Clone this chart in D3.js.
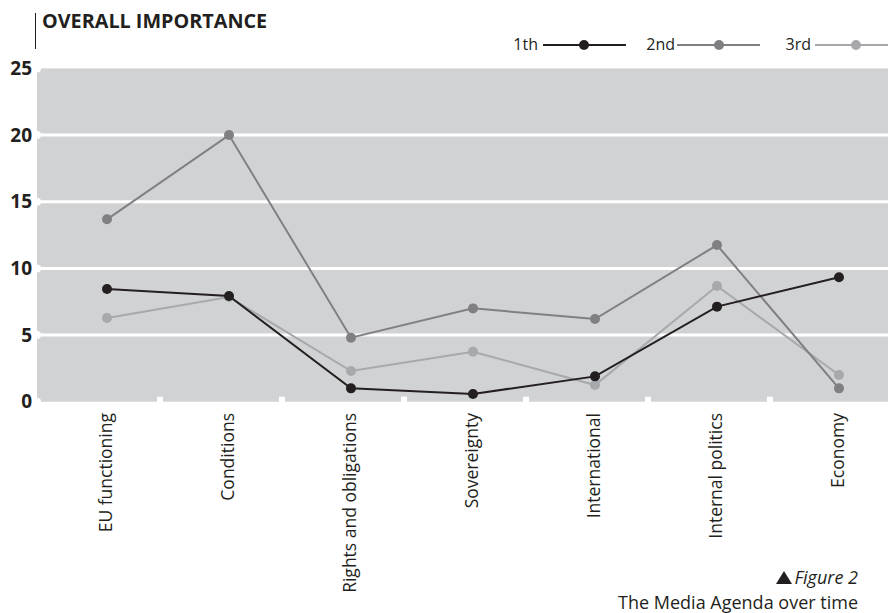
<!DOCTYPE html>
<meta charset="utf-8">
<head>
    <title>Overall importance</title>
    <script type="text/javascript" src="https://d3js.org/d3.v7.min.js"></script>
    <style>
        body { margin: 0; background: white; }
        text { font-family: "Open Sans", "Noto Sans", sans-serif; fill: #231f20; }
    </style>
</head>
<body>
    <script>
        // data
        categories = ["EU functioning", "Conditions", "Rights and obligations", "Sovereignty", "International", "Internal politics", "Economy"]
        first = [8.45, 7.93, 1.0, 0.58, 1.9, 7.13, 9.33]
        second = [13.68, 20.0, 4.8, 7.0, 6.2, 11.75, 1.0]
        third = [6.28, 7.85, 2.3, 3.75, 1.25, 8.68, 2.0]
        seriesNames = ["1th", "2nd", "3rd"]
        yTicks = [0, 5, 10, 15, 20, 25]

        w = 888
        h = 613
        colors = ["#231f20", "#808083", "#a7a9ac"]

        let svg = d3.select("body").append("svg")
            .attr("width", w)
            .attr("height", h)

        var x = d3.scalePoint().domain(categories).range([107, 839])
        var y = d3.scaleLinear().domain([0, 25]).range([401.7, 68.4])

        // gray plot area
        svg.append("rect")
            .attr("x", 37)
            .attr("y", y(25))
            .attr("width", w - 37)
            .attr("height", y(0) - y(25))
            .attr("fill", "#d1d2d4")

        // white grid lines with round ends on the left
        svg.selectAll(".grid")
            .data(yTicks.filter(d => d > 0 && d < 25))
            .enter().append("line")
            .attr("x1", 37).attr("x2", w)
            .attr("y1", d => y(d)).attr("y2", d => y(d))
            .attr("stroke", "white")
            .attr("stroke-width", 3)
        svg.selectAll(".cap")
            .data(yTicks)
            .enter().append("circle")
            .attr("cx", 37)
            .attr("cy", d => y(d))
            .attr("r", 4)
            .attr("fill", "white")

        // little white marks along the bottom
        svg.selectAll(".mark")
            .data(categories.slice(0, 6))
            .enter().append("rect")
            .attr("x", d => x(d) + 50)
            .attr("y", y(0) - 5)
            .attr("width", 6)
            .attr("height", 6)
            .attr("fill", "white")

        // y labels
        svg.selectAll(".ylab")
            .data(yTicks)
            .enter().append("text")
            .attr("x", 32)
            .attr("y", d => y(d))
            .attr("dy", "0.35em")
            .attr("text-anchor", "end")
            .attr("font-weight", "bold")
            .attr("font-size", 19)
            .text(d => d)

        // x labels, rotated
        svg.selectAll(".xlab")
            .data(categories)
            .enter().append("text")
            .attr("transform", d => "translate(" + (x(d) + 5) + "," + 413 + ") rotate(-90)")
            .attr("text-anchor", "end")
            .attr("font-size", 17.5)
            .text(d => d)

        // lines and dots, drawn back to front
        var allSeries = [first, second, third]
        var line = d3.line().x((d, i) => x(categories[i])).y(d => y(d))
        for (let s = 2; s >= 0; s--) {
            svg.append("path")
                .datum(allSeries[s])
                .attr("d", line)
                .attr("fill", "none")
                .attr("stroke", colors[s])
                .attr("stroke-width", 2)
            svg.selectAll(".dot" + s)
                .data(allSeries[s])
                .enter().append("circle")
                .attr("cx", (d, i) => x(categories[i]))
                .attr("cy", d => y(d))
                .attr("r", 5)
                .attr("fill", colors[s])
        }

        // title
        svg.append("line")
            .attr("x1", 35.5).attr("x2", 35.5)
            .attr("y1", 13).attr("y2", 49)
            .attr("stroke", "#231f20")
            .attr("stroke-width", 1)
        svg.append("text")
            .attr("x", 42)
            .attr("y", 28)
            .attr("font-weight", "bold")
            .attr("font-size", 19.8)
            .text("OVERALL IMPORTANCE")

        // legend
        legendPos = [
            {lab: 538, x1: 543, x2: 626, dot: 584},
            {lab: 675, x1: 677, x2: 760, dot: 719},
            {lab: 811, x1: 815, x2: 895, dot: 856}
        ]
        legendPos.forEach(function (p, i) {
            svg.append("text")
                .attr("x", p.lab)
                .attr("y", 50)
                .attr("text-anchor", "end")
                .attr("font-size", 16)
                .text(seriesNames[i])
            svg.append("line")
                .attr("x1", p.x1).attr("x2", p.x2)
                .attr("y1", 45).attr("y2", 45)
                .attr("stroke", colors[i])
                .attr("stroke-width", 2)
            svg.append("circle")
                .attr("cx", p.dot).attr("cy", 45)
                .attr("r", 5)
                .attr("fill", colors[i])
        })

        // caption
        svg.append("path")
            .attr("d", "M776,584 L784,571 L792,584 Z")
            .attr("fill", "#231f20")
        svg.append("text")
            .attr("x", 858)
            .attr("y", 584)
            .attr("text-anchor", "end")
            .attr("font-style", "italic")
            .attr("font-size", 18)
            .text("Figure 2")
        svg.append("text")
            .attr("x", 858)
            .attr("y", 609)
            .attr("text-anchor", "end")
            .attr("font-size", 18)
            .text("The Media Agenda over time")
    </script>
</body>
</html>
